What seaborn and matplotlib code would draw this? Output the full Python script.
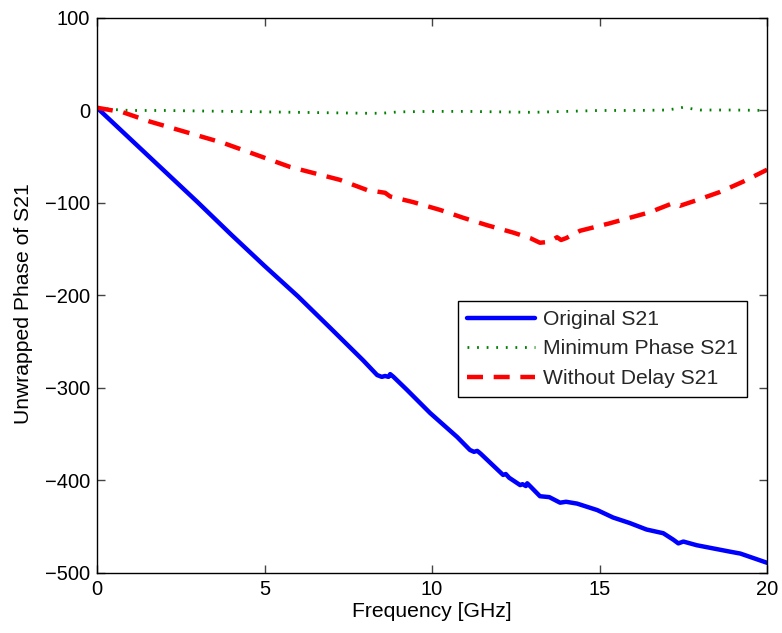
import matplotlib
matplotlib.use("Agg")
import matplotlib.pyplot as plt
import seaborn as sns
import pandas as pd

# ---- data ----
orig_f = [0, 1, 2, 3, 4, 5, 6, 6.96, 7.94, 8.36, 8.5, 8.6, 8.7, 8.75, 8.85, 9.25, 9.94,
          10.75, 11.13, 11.25, 11.35, 11.45, 12.12, 12.2, 12.3, 12.63, 12.7, 12.8, 12.84,
          12.95, 13.22, 13.5, 13.82, 14.0, 14.33, 14.93, 15.4, 15.9, 16.4, 16.9, 17.2,
          17.35, 17.5, 17.9, 18.9, 19.2, 19.6, 20]
orig_v = [3, -31, -65, -99, -134, -168, -201, -235, -270, -286, -288, -287, -288, -285, -288,
          -302, -327, -353, -367, -369, -368, -371, -394, -393, -397, -405, -404, -406, -403,
          -407, -417, -418, -424, -423, -425, -432, -440, -446, -453, -457, -464, -468, -466,
          -470, -477, -479, -484, -489]

minph_f = [0, 0.5, 1, 2, 3, 4, 5, 6, 7, 8, 8.5, 9, 10, 11, 12, 13, 13.5, 14, 15, 16, 17,
           17.3, 17.5, 17.8, 18, 19, 20]
minph_v = [3, 1, 0, 0, -0.5, -1, -1.5, -2, -2.5, -3, -3, -1.5, -1, -1, -1.5, -2, -1.5, -1,
           0, 0, 0.5, 2, 3.5, 1.5, 0.5, 0.5, 0]

nodel_f = [0, 0.78, 1.58, 3.76, 5.76, 7.25, 8.06, 8.6, 8.75, 9.43, 10.24, 10.93, 11.64,
           12.42, 12.93, 13.22, 13.5, 13.73, 13.85, 14.0, 14.42, 15.3, 15.9, 16.5, 17.2,
           17.4, 17.9, 18.6, 19.28, 20]
nodel_v = [3, -2, -12, -35, -61, -75, -86, -89, -93, -99, -107.5, -116, -124, -132, -138,
           -143, -142, -137, -140, -138, -130, -122, -116, -110, -100, -103, -97, -88, -77, -64]

labels = ["Original S21", "Minimum Phase S21", "Without Delay S21"]
xticks = [0, 5, 10, 15, 20]
yticks = [100, 0, -100, -200, -300, -400, -500]

sns.set_theme(style="white")
plt.rcParams["font.family"] = ["Liberation Sans", "DejaVu Sans"]

fig = plt.figure(figsize=(7.82, 6.33), dpi=100)
ax = fig.add_axes([0.124, 0.0948, 0.857, 0.8768])

df_o = pd.DataFrame({"f": orig_f, "v": orig_v})
df_m = pd.DataFrame({"f": minph_f, "v": minph_v})
df_n = pd.DataFrame({"f": nodel_f, "v": nodel_v})

sns.lineplot(data=df_o, x="f", y="v", ax=ax, color="#0000ff", lw=3.2,
             label=labels[0], sort=False, solid_joinstyle="round")
sns.lineplot(data=df_m, x="f", y="v", ax=ax, color="#008000", lw=2.0,
             label=labels[1], sort=False)
ax.lines[-1].set_dashes((0.65, 2.8))
sns.lineplot(data=df_n, x="f", y="v", ax=ax, color="#ff0000", lw=3.2,
             label=labels[2], sort=False)
ax.lines[-1].set_dashes((3.6, 2.4))

ax.set_xlim(0, 20)
ax.set_ylim(-500, 100)
ax.set_xticks(xticks)
ax.set_yticks(yticks)
ax.set_xlabel("Frequency [GHz]", fontsize=15.2, color="black", labelpad=2)
ax.set_ylabel("Unwrapped Phase of S21", fontsize=15.2, color="black")
ax.yaxis.set_label_coords(-0.0955, 0.485)
ax.tick_params(axis="both", which="both", direction="in", length=6, width=1,
               top=True, right=True, bottom=True, left=True,
               labelsize=14.5, labelcolor="black", color="#444444", pad=5)
for s in ax.spines.values():
    s.set_color("black")
    s.set_linewidth(1.0)
    s.set_visible(True)

leg = ax.legend(loc="upper right", bbox_to_anchor=(0.970, 0.490), fontsize=15.2,
                frameon=True, fancybox=False, shadow=False, framealpha=1,
                edgecolor="black", handlelength=3.2, handletextpad=0.4,
                labelspacing=0.5, borderpad=0.42, borderaxespad=0)
leg.get_frame().set_linewidth(1.0)

fig.savefig("out.png", dpi=100)
